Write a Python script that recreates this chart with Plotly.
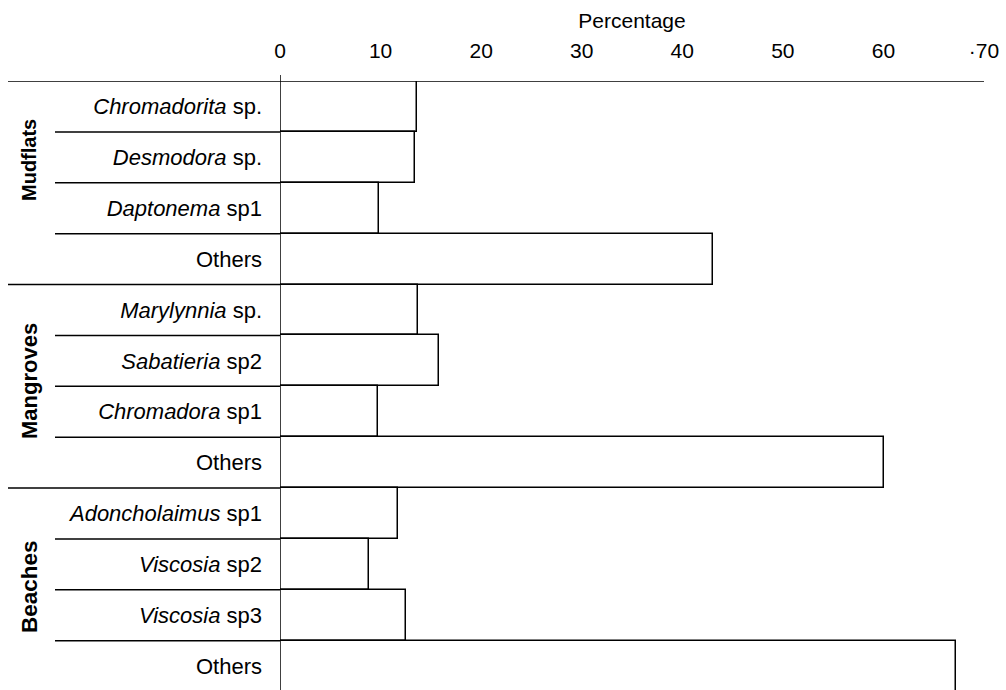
import plotly.graph_objects as go

# Dominant nematode taxa per habitat (percentage of total abundance)
habitats = ["Mudflats", "Mangroves", "Beaches"]
genera = [
    "Chromadorita", "Desmodora", "Daptonema", "Others",
    "Marylynnia", "Sabatieria", "Chromadora", "Others",
    "Adoncholaimus", "Viscosia", "Viscosia", "Others",
]
suffixes = [
    "sp.", "sp.", "sp1", "",
    "sp.", "sp2", "sp1", "",
    "sp1", "sp2", "sp3", "",
]
habitat_of_row = [
    "Mudflats", "Mudflats", "Mudflats", "Mudflats",
    "Mangroves", "Mangroves", "Mangroves", "Mangroves",
    "Beaches", "Beaches", "Beaches", "Beaches",
]
percentages = [13.6, 13.4, 9.8, 43.1, 13.7, 15.8, 9.7, 60.1, 11.7, 8.8, 12.5, 67.2]
x_ticks = [0, 10, 20, 30, 40, 50, 60, 70]
x_tick_labels = ["0", "10", "20", "30", "40", "50", "60", "\u00b770"]

FONT = "Liberation Sans, Arial, sans-serif"
FS = 22

rows = list(range(len(percentages)))
labels = [f"<i>{g}</i> {s}" if g != "Others" else "Others" for g, s in zip(genera, suffixes)]

fig = go.Figure()
fig.add_trace(go.Bar(
    x=percentages,
    y=rows,
    orientation="h",
    width=1.0,
    marker=dict(color="white", line=dict(color="black", width=1.5)),
    hoverinfo="x",
    showlegend=False,
))

W, H = 1006, 690
ML, MR, MT, MB = 280, 22, 81, 0
plot_w = W - ML - MR
plot_h = H - MT - MB
n_rows = len(rows)
# last row runs off the bottom edge of the figure
y_bottom = n_rows - 0.53
y_span = y_bottom + 0.5


def paper_x(px):
    return (px - ML) / plot_w


def row_at_px(py):
    # convert a pixel height into a row coordinate on the reversed category axis
    return (py - MT) / plot_h * y_span - 0.5


shapes = []
# top rule spanning the label columns and the plot
shapes.append(dict(type="line", xref="paper", yref="y",
                   x0=paper_x(8), x1=1.0, y0=-0.5, y1=-0.5,
                   line=dict(color="black", width=1.5)))
# row separators in the label column
for i in range(1, n_rows):
    new_group = habitat_of_row[i] != habitat_of_row[i - 1]
    shapes.append(dict(type="line", xref="paper", yref="y",
                       x0=paper_x(8 if new_group else 55), x1=0,
                       y0=i - 0.5, y1=i - 0.5,
                       line=dict(color="black", width=1.5)))
# vertical axis at zero
shapes.append(dict(type="line", xref="x", yref="paper",
                   x0=0, x1=0, y0=0, y1=1.01,
                   line=dict(color="black", width=1.5)))

# habitat labels: vertical, bold
group_label_px = {"Mudflats": (160, 20), "Mangroves": (381, 22), "Beaches": (587, 22.5)}
annotations = []
for name in habitats:
    py, size = group_label_px[name]
    annotations.append(dict(
        x=paper_x(29), xref="paper", y=row_at_px(py), yref="y",
        text=f"<b>{name}</b>", textangle=-90, showarrow=False,
        font=dict(family=FONT, size=size, color="black"),
        xanchor="center", yanchor="middle",
    ))

fig.update_layout(
    width=W, height=H,
    margin=dict(l=ML, r=MR, t=MT, b=MB, pad=0),
    paper_bgcolor="white", plot_bgcolor="white",
    bargap=0,
    shapes=shapes,
    annotations=annotations,
    font=dict(family=FONT, size=FS, color="black"),
    xaxis=dict(
        side="top", range=[0, 70], tickvals=x_ticks, ticktext=x_tick_labels,
        showgrid=False, zeroline=False, showline=False, ticks="",
        ticklabelstandoff=18,
        title=dict(text="Percentage", font=dict(family=FONT, size=21), standoff=4),
        tickfont=dict(family=FONT, size=21),
    ),
    yaxis=dict(
        range=[y_bottom, -0.5], tickvals=rows, ticktext=labels,
        showgrid=False, zeroline=False, showline=False, ticks="",
        ticklabelstandoff=17,
        tickfont=dict(family=FONT, size=FS),
    ),
)

fig.write_html("out.html")
